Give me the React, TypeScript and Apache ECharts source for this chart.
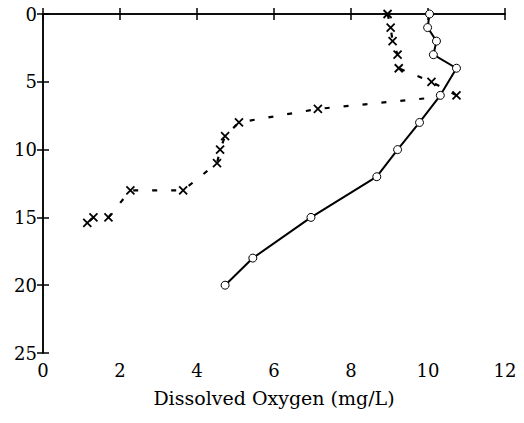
import React, { useEffect, useRef } from "react";
import * as echarts from "echarts";

const xTicks = [0, 2, 4, 6, 8, 10, 12];
const yTicks = [0, 5, 10, 15, 20, 25];

// Solid series (circles): dissolved oxygen (mg/L) vs depth
const circleDO = [10.04, 9.99, 10.22, 10.14, 10.74, 10.32, 9.78, 9.21, 8.67, 6.96, 5.45, 4.73];
const circleDepth = [0, 1, 2, 3, 4, 6, 8, 10, 12, 15, 18, 20];

// Dashed series (crosses)
const crossDO = [8.95, 9.03, 9.08, 9.21, 9.24, 10.09, 10.74, 7.14, 5.09, 4.73, 4.6, 4.52, 3.64, 2.27, 1.7, 1.31, 1.15];
const crossDepth = [0, 1, 2, 3, 4, 5, 6, 7, 8, 9, 10, 11, 13, 13, 15, 15, 15.4];

const xAxisName = "Dissolved Oxygen (mg/L)";

const FONT = "DejaVu Serif";

export default function App() {
  const ref = useRef<HTMLDivElement>(null);
  useEffect(() => {
    if (!ref.current) return;
    const chart = echarts.init(ref.current, null, { renderer: "svg" });
    const axisLine = { show: true, lineStyle: { color: "#000", width: 1.5 } };
    const axisTick = { show: true, inside: true, length: 6, lineStyle: { color: "#000", width: 1.5 } };
    const label = { color: "#000", fontFamily: FONT, fontSize: 18, fontWeight: "normal" };
    chart.setOption({
      animation: false,
      backgroundColor: "#fff",
      grid: { left: 43, right: 19, top: 14, bottom: 70 },
      xAxis: [
        {
          type: "value",
          min: xTicks[0],
          max: xTicks[xTicks.length - 1],
          interval: 2,
          position: "bottom",
          axisLine,
          axisTick,
          splitLine: { show: false },
          axisLabel: { ...label, margin: 8 },
          name: xAxisName,
          nameLocation: "middle",
          nameGap: 35,
          nameTextStyle: { ...label, fontSize: 19 },
        },
        {
          type: "value",
          min: xTicks[0],
          max: xTicks[xTicks.length - 1],
          interval: 2,
          position: "top",
          axisLine,
          axisTick,
          splitLine: { show: false },
          axisLabel: { show: false },
        },
      ],
      yAxis: [
        {
          type: "value",
          inverse: true,
          min: yTicks[0],
          max: yTicks[yTicks.length - 1],
          interval: 5,
          position: "left",
          axisLine,
          axisTick,
          splitLine: { show: false },
          axisLabel: { ...label, margin: 6 },
        },
        {
          type: "value",
          inverse: true,
          min: yTicks[0],
          max: yTicks[yTicks.length - 1],
          interval: 5,
          position: "right",
          axisLine,
          axisTick,
          splitLine: { show: false },
          axisLabel: { show: false },
        },
      ],
      series: [
        {
          type: "line",
          data: circleDO.map((v, i) => [v, circleDepth[i]]),
          symbol: "circle",
          symbolSize: 8,
          itemStyle: { color: "#fff", borderColor: "#000", borderWidth: 1 },
          lineStyle: { color: "#000", width: 2 },
        },
        {
          type: "line",
          data: crossDO.map((v, i) => [v, crossDepth[i]]),
          symbol: "path://M0,0L10,10M10,0L0,10",
          symbolSize: 8,
          itemStyle: { color: "rgba(0,0,0,0)", borderColor: "#000", borderWidth: 1.8 },
          lineStyle: { color: "#000", width: 2.2, type: [5, 14] },
        },
      ],
    });
    return () => chart.dispose();
  }, []);
  return (
    <div
      ref={ref}
      style={{ position: "fixed", left: 0, top: 0, width: 524, height: 423, background: "#fff" }}
    />
  );
}
